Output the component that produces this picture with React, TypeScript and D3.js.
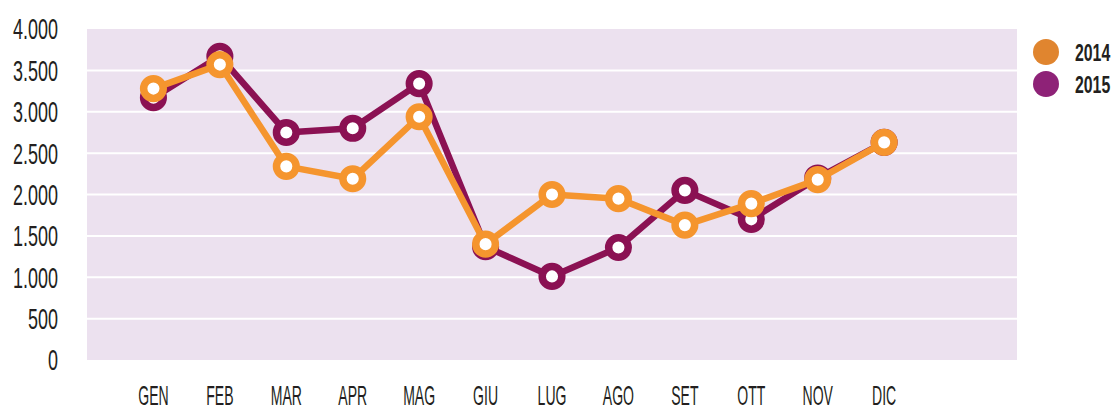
import { useEffect, useRef } from "react";
import * as d3 from "d3";

// mesi e valori
const months = ["GEN", "FEB", "MAR", "APR", "MAG", "GIU", "LUG", "AGO", "SET", "OTT", "NOV", "DIC"];
const values2014 = [3280, 3570, 2340, 2190, 2940, 1400, 2000, 1950, 1630, 1890, 2180, 2630];
const values2015 = [3170, 3670, 2750, 2800, 3340, 1370, 1010, 1360, 2050, 1700, 2200, 2630];
const yTicks = [0, 500, 1000, 1500, 2000, 2500, 3000, 3500, 4000];
const legendYears = ["2014", "2015"];

const width = 1117;
const height = 410;
const margin = { top: 29, left: 87, bottom: 50, right: 100 };
const font = "'Liberation Sans', Arial, sans-serif";

const App = () => {
  const svgRef = useRef(null);

  useEffect(() => {
    const svg = d3.select(svgRef.current);
    svg.selectAll("*").remove();

    // 14 slots across the plot, months sit on slots 1..12
    const x = d3
      .scaleLinear()
      .domain([-1, 13])
      .range([margin.left, width - margin.right]);
    const y = d3
      .scaleLinear()
      .domain([0, 4000])
      .range([height - margin.bottom, margin.top]);

    svg
      .append("rect")
      .attr("x", x(-1))
      .attr("y", y(4000))
      .attr("width", x(13) - x(-1))
      .attr("height", y(0) - y(4000))
      .attr("fill", "#ece1ef");

    // gridlines
    svg
      .append("g")
      .selectAll("line")
      .data(yTicks.filter((t) => t > 0 && t < 4000))
      .enter()
      .append("line")
      .attr("x1", x(-1))
      .attr("x2", x(13))
      .attr("y1", (d) => y(d))
      .attr("y2", (d) => y(d))
      .attr("stroke", "#fff")
      .attr("stroke-width", 2);

    // y labels
    svg
      .append("g")
      .selectAll("text")
      .data(yTicks)
      .enter()
      .append("text")
      .attr("transform", (d) => `translate(58,${y(d)}) scale(0.62,1)`)
      .attr("text-anchor", "end")
      .attr("dy", "0.36em")
      .attr("font-family", font)
      .attr("font-size", 29)
      .attr("fill", "#231f20")
      .text((d) => d3.format(",")(d).replace(/,/g, "."));

    // x labels
    svg
      .append("g")
      .selectAll("text")
      .data(months)
      .enter()
      .append("text")
      .attr("transform", (_, i) => `translate(${x(i)},405) scale(0.52,1)`)
      .attr("text-anchor", "middle")
      .attr("font-family", font)
      .attr("font-size", 27)
      .attr("fill", "#231f20")
      .text((d) => d);

    const line = d3
      .line<number>()
      .x((_, i) => x(i))
      .y((d) => y(d));

    const series = [
      { values: values2015, color: "#8b1153" },
      { values: values2014, color: "#f5952e" },
    ];

    series.forEach((s) => {
      const g = svg.append("g");
      g.append("path")
        .datum(s.values)
        .attr("d", line)
        .attr("fill", "none")
        .attr("stroke", s.color)
        .attr("stroke-width", 6.5)
        .attr("stroke-linejoin", "round");
      g.selectAll("circle")
        .data(s.values)
        .enter()
        .append("circle")
        .attr("cx", (_, i) => x(i))
        .attr("cy", (d) => y(d))
        .attr("r", 9.8)
        .attr("fill", "#fff")
        .attr("stroke", s.color)
        .attr("stroke-width", 7.5);
    });

    // legend
    const legendColors = ["#e0852f", "#8e2277"];
    const lg = svg.append("g");
    legendYears.forEach((yr, i) => {
      lg.append("circle")
        .attr("cx", 1046)
        .attr("cy", 52 + i * 32)
        .attr("r", 13)
        .attr("fill", legendColors[i]);
      lg.append("text")
        .attr("transform", `translate(1075,${61 + i * 32}) scale(0.66,1)`)
        .attr("font-family", font)
        .attr("font-weight", "bold")
        .attr("font-size", 24)
        .attr("fill", "#231f20")
        .text(yr);
    });
  }, []);

  return (
    <svg
      ref={svgRef}
      width={width}
      height={height}
      style={{ position: "absolute", left: 0, top: 0 }}
    />
  );
};

export default App;
